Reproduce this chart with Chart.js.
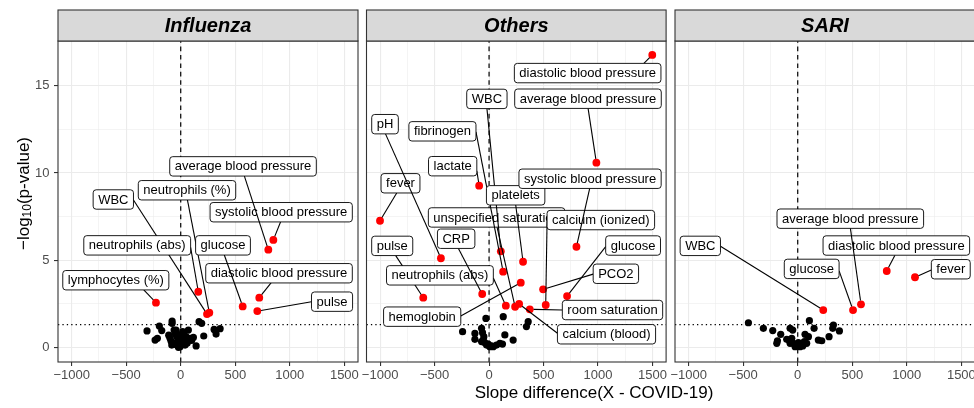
<!DOCTYPE html>
<html><head><meta charset="utf-8">
<script src="https://cdn.jsdelivr.net/npm/chart.js@4"></script>
<style>
html,body{margin:0;padding:0;background:#fff;overflow:hidden;width:974px;height:408px;}
#wrap{position:relative;width:974px;height:408px;overflow:hidden;}
.pn{position:absolute;top:0;height:408px;}
#xt{position:absolute;left:394px;width:400px;top:383px;line-height:20px;text-align:center;font:17px "Liberation Sans",Arial,sans-serif;color:#000;white-space:nowrap;}
</style></head><body>
<div id="wrap">
<div class="pn" style="left:0;width:362px"><canvas id="c0"></canvas></div>
<div class="pn" style="left:362px;width:308px"><canvas id="c1"></canvas></div>
<div class="pn" style="left:670px;width:310px"><canvas id="c2"></canvas></div>
<div id="xt">Slope difference(X - COVID-19)</div>
</div>
<script>
// ---------- data ----------
const panelNames = ['Influenza', 'Others', 'SARI'];
const xTicks = [-1000, -500, 0, 500, 1000, 1500];
const xMinorTicks = [-750, -250, 250, 750, 1250];
const yTicks = [0, 5, 10, 15];
const yMinorTicks = [2.5, 7.5, 12.5];
const pThreshold = 1.30103; // -log10(0.05)

// Influenza
const fluNsX = [-309,-235,-214,-196,-174,-79,-79,-61,-98,168,192,211,141,306,324,361,70,-52,-37,-21,-67,-82,-37,-6,9,18,-6,18,49,64,86,116,40,-21,-43,24,40,-110,-88,-15,2,60,100];
const fluNsY = [0.94,0.42,0.52,1.22,0.96,1.51,1.38,0.99,0.52,1.47,1.38,0.65,0.08,1.03,0.76,1.07,0.99,0.80,0.61,0.42,0.23,0.13,0.13,0.04,0.23,0.42,0.71,0.90,0.61,0.38,0.52,0.57,0.13,0.0,0.99,0.80,0.42,0.70,0.35,0.55,0.20,0.25,0.40];
const fluSigNames = ['lymphocytes (%)','pulse','WBC','neutrophils (abs)','neutrophils (%)','systolic blood pressure','average blood pressure','diastolic blood pressure','glucose'];
const fluSigX = [-227,702,241,161,262,849,803,720,568];
const fluSigY = [2.56,2.08,1.91,3.19,1.99,6.16,5.60,2.85,2.35];
// label placement (data units)
const fluLabelX = [-595,1387,-618,-399,57.5,921,571,901,387.5];
const fluLabelY = [3.85,2.62,8.48,5.85,9.01,7.75,10.38,4.25,5.85];

// Others
const othNsX = [-29,130,359,343,-243,-130,-69,-60,145,-130,221,-54,-39,-8,23,38,68,99,123,-69,-23,-48,7];
const othNsY = [1.66,1.76,1.47,1.19,0.90,0.80,1.09,0.84,0.71,0.46,0.42,0.42,0.27,0.19,0.08,0.04,0.13,0.23,0.19,0.33,0.13,0.61,0.04];
const othSigNames = ['fever','pulse','pH','lactate','unspecified saturation','calcium (ionized)','fibrinogen','WBC','platelets','neutrophils (abs)','CRP','hemoglobin','systolic blood pressure','average blood pressure','diastolic blood pressure','glucose','PCO2','room saturation','calcium (blood)'];
const othSigX = [-1001,-604,-442,-91,239,520,129,108,312,154,-63,291,802,985,1498,716,496,374,276];
const othSigY = [7.26,2.85,5.11,9.27,2.33,2.43,4.34,5.51,4.91,2.39,3.06,3.71,5.77,10.59,16.77,2.94,3.33,2.18,2.49];
const othLabelX = [-813,-889,-955,-334,69,1026,-428,-20,244,-451,-302,-614,927,908,905,1322,1164,1133,1078];
const othLabelY = [9.41,5.82,12.80,10.39,7.45,7.30,12.39,14.25,8.72,4.13,6.23,1.76,9.67,14.26,15.73,5.84,4.22,2.14,0.75];

// SARI
const sariNsX = [-452,-315,-229,-156,-186,-192,-70,-46,107,150,327,321,382,287,189,220,-101,-76,-55,67,98,-40,-9,21,46,61,-24,6,-70,37,82];
const sariNsY = [1.41,1.09,0.96,0.75,0.38,0.23,1.09,0.99,1.53,1.09,1.28,1.09,0.94,0.61,0.42,0.38,0.46,0.42,0.52,0.75,0.61,0.23,0.13,0.04,0.08,0.33,0.04,0.27,0.23,0.23,0.23];
const sariSigNames = ['WBC','glucose','diastolic blood pressure','average blood pressure','fever'];
const sariSigX = [234,507,816,580,1075];
const sariSigY = [2.14,2.14,4.38,2.47,4.02];
const sariLabelX = [-893,128,904,482,1403];
const sariLabelY = [5.82,4.50,5.84,7.38,4.48];

// ---------- layout constants ----------
const X_MIN = -1125, X_MAX = 1625, Y_MIN = -0.84, Y_MAX = 17.57;
const FONT = '"Liberation Sans", Arial, sans-serif';
const STRIP_TOP = 10;

function fmt(v){ return v < 0 ? '\u2212' + Math.abs(v) : String(v); }

function connect(p, b) {
  let ox, oy, l=false, r=false, t=false, bo=false;
  if (p[0] >= b[0] && p[0] <= b[2]) ox = p[0]; else if (p[0] > b[2]) { ox = b[2]; r = true; } else { ox = b[0]; l = true; }
  if (p[1] >= b[1] && p[1] <= b[3]) oy = p[1]; else if (p[1] > b[3]) { oy = b[3]; bo = true; } else { oy = b[1]; t = true; }
  const mx = (b[0]+b[2])/2, my = (b[1]+b[3])/2;
  const d = Math.hypot(p[0]-ox, p[1]-oy);
  if ((t||bo) && !(l||r)) { const a = Math.hypot(p[0]-mx, p[1]-oy); ox = ox + (mx-ox)*d/a; }
  else if ((l||r) && !(t||bo)) { const a = Math.hypot(p[0]-ox, p[1]-my); oy = oy + (my-oy)*d/a; }
  else if ((l||r) && (t||bo)) {
    const a1 = Math.hypot(p[0]-mx, p[1]-oy), a2 = Math.hypot(p[0]-ox, p[1]-my);
    if (a1 < a2) ox = ox + (mx-ox)*d/a1; else oy = oy + (my-oy)*d/a2;
  }
  return [ox, oy];
}

function roundRect(ctx, x, y, w, h, r) {
  ctx.beginPath();
  ctx.moveTo(x+r, y); ctx.lineTo(x+w-r, y); ctx.arcTo(x+w, y, x+w, y+r, r);
  ctx.lineTo(x+w, y+h-r); ctx.arcTo(x+w, y+h, x+w-r, y+h, r);
  ctx.lineTo(x+r, y+h); ctx.arcTo(x, y+h, x, y+h-r, r);
  ctx.lineTo(x, y+r); ctx.arcTo(x, y, x+r, y, r); ctx.closePath();
}

const volcanoPlugin = {
  id: 'volcano',
  beforeDatasetsDraw(chart, args, o) {
    const {ctx, chartArea: a, scales: {x, y}} = chart;
    ctx.save();
    ctx.beginPath(); ctx.rect(a.left, a.top, a.right-a.left, a.bottom-a.top); ctx.clip();
    ctx.strokeStyle = '#000';
    ctx.setLineDash([4.6, 3.8]); ctx.lineWidth = 1.2;
    const x0 = x.getPixelForValue(0);
    ctx.beginPath(); ctx.moveTo(x0, a.bottom); ctx.lineTo(x0, a.top); ctx.stroke();
    ctx.setLineDash([1.3, 3.1]); ctx.lineWidth = 1.3;
    const yh = y.getPixelForValue(pThreshold);
    ctx.beginPath(); ctx.moveTo(a.left, yh); ctx.lineTo(a.right, yh); ctx.stroke();
    ctx.restore();
  },
  afterDatasetsDraw(chart, args, o) {
    const {ctx, chartArea: a, scales: {x, y}} = chart;
    ctx.save();
    ctx.font = '13px ' + FONT;
    ctx.textAlign = 'center'; ctx.textBaseline = 'middle';
    const padX = 5, h = 19.4, rad = 3.8;
    for (let i = 0; i < o.names.length; i++) {
      const px = x.getPixelForValue(o.sx[i]), py = y.getPixelForValue(o.sy[i]);
      const cx = x.getPixelForValue(o.lx[i]), cy = y.getPixelForValue(o.ly[i]);
      const tw = ctx.measureText(o.names[i]).width;
      const w = tw + 2*padX;
      const b = [cx - w/2, cy - h/2, cx + w/2, cy + h/2];
      const inside = px >= b[0] && px <= b[2] && py >= b[1] && py <= b[3];
      if (!inside) {
        const s = connect([px, py], b);
        const dx = px - s[0], dy = py - s[1], d = Math.hypot(dx, dy);
        if (d > 7) {
          const ex = px - dx/d*rad, ey = py - dy/d*rad;
          ctx.strokeStyle = '#000'; ctx.lineWidth = 1.1; ctx.setLineDash([]);
          ctx.beginPath(); ctx.moveTo(s[0], s[1]); ctx.lineTo(ex, ey); ctx.stroke();
        }
      }
      roundRect(ctx, b[0], b[1], w, h, 3);
      ctx.fillStyle = '#fff'; ctx.fill();
      ctx.strokeStyle = '#000'; ctx.lineWidth = 0.9; ctx.stroke();
      ctx.fillStyle = '#000';
      ctx.fillText(o.names[i], cx, cy + 0.5);
    }
    ctx.restore();
  },
  afterDraw(chart, args, o) {
    const {ctx, chartArea: a} = chart;
    ctx.save();
    ctx.strokeStyle = '#333333'; ctx.lineWidth = 1.1;
    ctx.strokeRect(a.left, a.top, a.right-a.left, a.bottom-a.top);
    ctx.fillStyle = '#D9D9D9';
    ctx.fillRect(a.left, STRIP_TOP, a.right-a.left, a.top-STRIP_TOP);
    ctx.strokeRect(a.left, STRIP_TOP, a.right-a.left, a.top-STRIP_TOP);
    ctx.fillStyle = '#000';
    ctx.font = 'italic bold 20px ' + FONT;
    ctx.textAlign = 'center'; ctx.textBaseline = 'middle';
    ctx.fillText(o.strip, (a.left+a.right)/2, (STRIP_TOP + a.top)/2 + 1);
    if (o.yTitle) {
      ctx.translate(24, 193.5);
      ctx.rotate(-Math.PI/2);
      ctx.textAlign = 'left'; ctx.textBaseline = 'middle';
      const f1 = '17px ' + FONT, f2 = '12px ' + FONT;
      ctx.font = f1; const w1 = ctx.measureText('\u2212log').width;
      ctx.font = f2; const w2 = ctx.measureText('10').width;
      ctx.font = f1; const w3 = ctx.measureText('(p-value)').width;
      let sx = -(w1 + w2 + w3)/2;
      ctx.font = f1; ctx.fillText('\u2212log', sx, 0); sx += w1;
      ctx.font = f2; ctx.fillText('10', sx, 4); sx += w2;
      ctx.font = f1; ctx.fillText('(p-value)', sx, 0);
    }
    ctx.restore();
  }
};

function makeChart(id, strip, nsX, nsY, names, sx, sy, lx, ly, showY, padL, padR) {
  const allX = xTicks.concat(xMinorTicks).sort((p, q) => p - q);
  const allY = yTicks.concat(yMinorTicks).sort((p, q) => p - q);
  new Chart(document.getElementById(id), {
    type: 'scatter',
    data: { datasets: [
      { data: nsX.map((v, i) => ({x: v, y: nsY[i]})), backgroundColor: '#000000', borderWidth: 0, pointRadius: 3.6, pointHoverRadius: 3.6 },
      { data: sx.map((v, i) => ({x: v, y: sy[i]})), backgroundColor: '#FF0000', borderWidth: 0, pointRadius: 3.9, pointHoverRadius: 3.9 }
    ]},
    options: {
      responsive: true, maintainAspectRatio: false, animation: false, events: [],
      layout: { padding: { top: 41, bottom: 0, left: padL, right: padR } },
      plugins: {
        legend: { display: false }, tooltip: { enabled: false },
        volcano: { strip, names, sx, sy, lx, ly, yTitle: showY }
      },
      scales: {
        x: {
          type: 'linear', min: X_MIN, max: X_MAX,
          afterBuildTicks: s => { s.ticks = allX.map(v => ({value: v})); },
          afterFit: s => { s.height = 46; s.paddingLeft = 0; s.paddingRight = 0; },
          ticks: { autoSkip: false, maxRotation: 0, minRotation: 0, padding: 2, color: '#4D4D4D',
                   font: { family: FONT, size: 13 }, callback: v => xTicks.includes(v) ? fmt(v) : '' },
          grid: { color: '#EBEBEB', lineWidth: c => (c.tick && xTicks.includes(c.tick.value)) ? 1.1 : 0.55,
                  drawTicks: true, tickLength: 4, tickWidth: 1.1,
                  tickColor: c => (c.tick && xTicks.includes(c.tick.value)) ? '#333333' : 'rgba(0,0,0,0)' },
          border: { display: false }
        },
        y: {
          type: 'linear', min: Y_MIN, max: Y_MAX,
          afterBuildTicks: s => { s.ticks = allY.map(v => ({value: v})); },
          afterFit: s => { s.width = showY ? 58 : 0; s.paddingTop = 0; s.paddingBottom = 0; },
          ticks: { display: showY, autoSkip: false, padding: 4.5, color: '#4D4D4D',
                   font: { family: FONT, size: 13 }, callback: v => yTicks.includes(v) ? fmt(v) : '' },
          grid: { color: '#EBEBEB', lineWidth: c => (c.tick && yTicks.includes(c.tick.value)) ? 1.1 : 0.55,
                  drawTicks: showY, tickLength: 4, tickWidth: 1.1,
                  tickColor: c => (c.tick && yTicks.includes(c.tick.value)) ? '#333333' : 'rgba(0,0,0,0)' },
          border: { display: false }
        }
      }
    },
    plugins: [volcanoPlugin]
  });
}

makeChart('c0', panelNames[0], fluNsX, fluNsY, fluSigNames, fluSigX, fluSigY, fluLabelX, fluLabelY, true, 0, 4);
makeChart('c1', panelNames[1], othNsX, othNsY, othSigNames, othSigX, othSigY, othLabelX, othLabelY, false, 4.5, 3.5);
makeChart('c2', panelNames[2], sariNsX, sariNsY, sariSigNames, sariSigX, sariSigY, sariLabelX, sariLabelY, false, 5, 5);
</script>
</body></html>
